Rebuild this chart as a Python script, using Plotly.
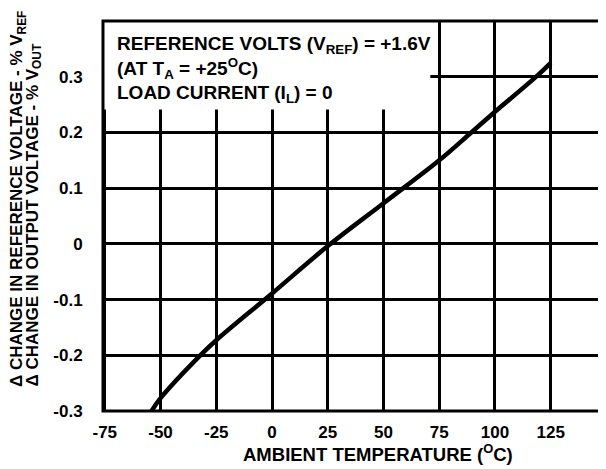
import plotly.graph_objects as go

# Data
temperature_c = [-54, -50, -32.4, -25, 0, 25, 50, 75, 89.4, 100, 119, 125]
delta_pct = [-0.300, -0.277, -0.201, -0.173, -0.089, -0.004, 0.073, 0.150,
             0.200, 0.237, 0.302, 0.325]

x_ticks = [-75, -50, -25, 0, 25, 50, 75, 100, 125]
x_tick_text = ["-75", "-50", "-25", "0", "25", "50", "75", "100", "125"]
y_ticks = [-0.3, -0.2, -0.1, 0, 0.1, 0.2, 0.3]
y_tick_text = ["-0.3", "-0.2", "-0.1", "0", "0.1", "0.2", "0.3"]

x_range = [-75.8, 148.9]
y_range = [-0.3, 0.4]

FONT = "Liberation Sans, Arial, Helvetica, sans-serif"

# The page body has an 8px margin, so the figure is drawn 8px smaller and
# offset; positions below are given in page pixels.
OFF = 8
W, H = 606 - OFF, 469 - OFF
ml, mr, mt, mb = 103 - OFF, 2, 21 - OFF, 58

fig = go.Figure()
fig.add_trace(go.Scatter(
    x=temperature_c, y=delta_pct, mode="lines",
    line=dict(color="black", width=4.5, shape="spline", smoothing=1.0),
    showlegend=False, hoverinfo="skip"))

fig.update_layout(
    width=W, height=H,
    margin=dict(l=ml, r=mr, t=mt, b=mb),
    paper_bgcolor="white", plot_bgcolor="white",
    font=dict(family=FONT, color="black", size=17, weight="bold"),
    xaxis=dict(range=x_range, tickvals=x_ticks, ticktext=x_tick_text,
               showgrid=True, gridcolor="black", gridwidth=2.5, zeroline=False,
               showline=False, ticks="outside", ticklen=6, tickcolor="rgba(0,0,0,0)",
               tickfont=dict(family=FONT, size=17, weight="bold", color="black")),
    yaxis=dict(range=y_range, tickvals=y_ticks, ticktext=y_tick_text,
               showgrid=True, gridcolor="black", gridwidth=2.5, zeroline=False,
               showline=False, ticks="outside", ticklen=16, tickcolor="rgba(0,0,0,0)",
               tickfont=dict(family=FONT, size=17, weight="bold", color="black")),
)

# white box hiding the grid behind the condition text
fig.add_shape(type="rect", xref="x", yref="y", x0=x_range[0], x1=71, y0=0.241, y1=y_range[1],
              fillcolor="white", line=dict(width=0), layer="between")
# plot frame
fig.add_shape(type="rect", xref="paper", yref="paper", x0=0, x1=1, y0=0, y1=1,
              line=dict(color="black", width=3), layer="above")

pw = W - ml - mr
ph = H - mt - mb


def px_x(px):
    return (px - OFF - ml) / pw


def px_y(py):
    return (H - mb - (py - OFF)) / ph


cond_text = ("REFERENCE VOLTS (V<sub>REF</sub>) = +1.6V<br>"
             "(AT T<sub>A</sub> = +25<sup>O</sup>C)<br>"
             "LOAD CURRENT (I<sub>L</sub>) = 0")
fig.add_annotation(text=cond_text, xref="paper", yref="paper", x=px_x(115), y=px_y(69),
                   xanchor="left", yanchor="middle", align="left", showarrow=False,
                   font=dict(family=FONT, size=19, weight="bold", color="black"))

# y-axis title (two lines)
fig.add_annotation(text="Δ CHANGE IN REFERENCE VOLTAGE - % V<sub>REF</sub>",
                   xref="paper", yref="paper", x=px_x(18), y=px_y(389),
                   xanchor="center", yanchor="bottom", textangle=-90, showarrow=False,
                   font=dict(family=FONT, size=17, weight="bold", color="black"))
fig.add_annotation(text="Δ CHANGE IN OUTPUT VOLTAGE - % V<sub>OUT</sub>",
                   xref="paper", yref="paper", x=px_x(33), y=px_y(389),
                   xanchor="center", yanchor="bottom", textangle=-90, showarrow=False,
                   font=dict(family=FONT, size=17, weight="bold", color="black"))

# x-axis title
fig.add_annotation(text="AMBIENT TEMPERATURE (<sup>O</sup>C)",
                   xref="paper", yref="paper", x=px_x(378), y=px_y(453),
                   xanchor="center", yanchor="middle", showarrow=False,
                   font=dict(family=FONT, size=18.5, weight="bold", color="black"))

fig.write_html("out.html")
